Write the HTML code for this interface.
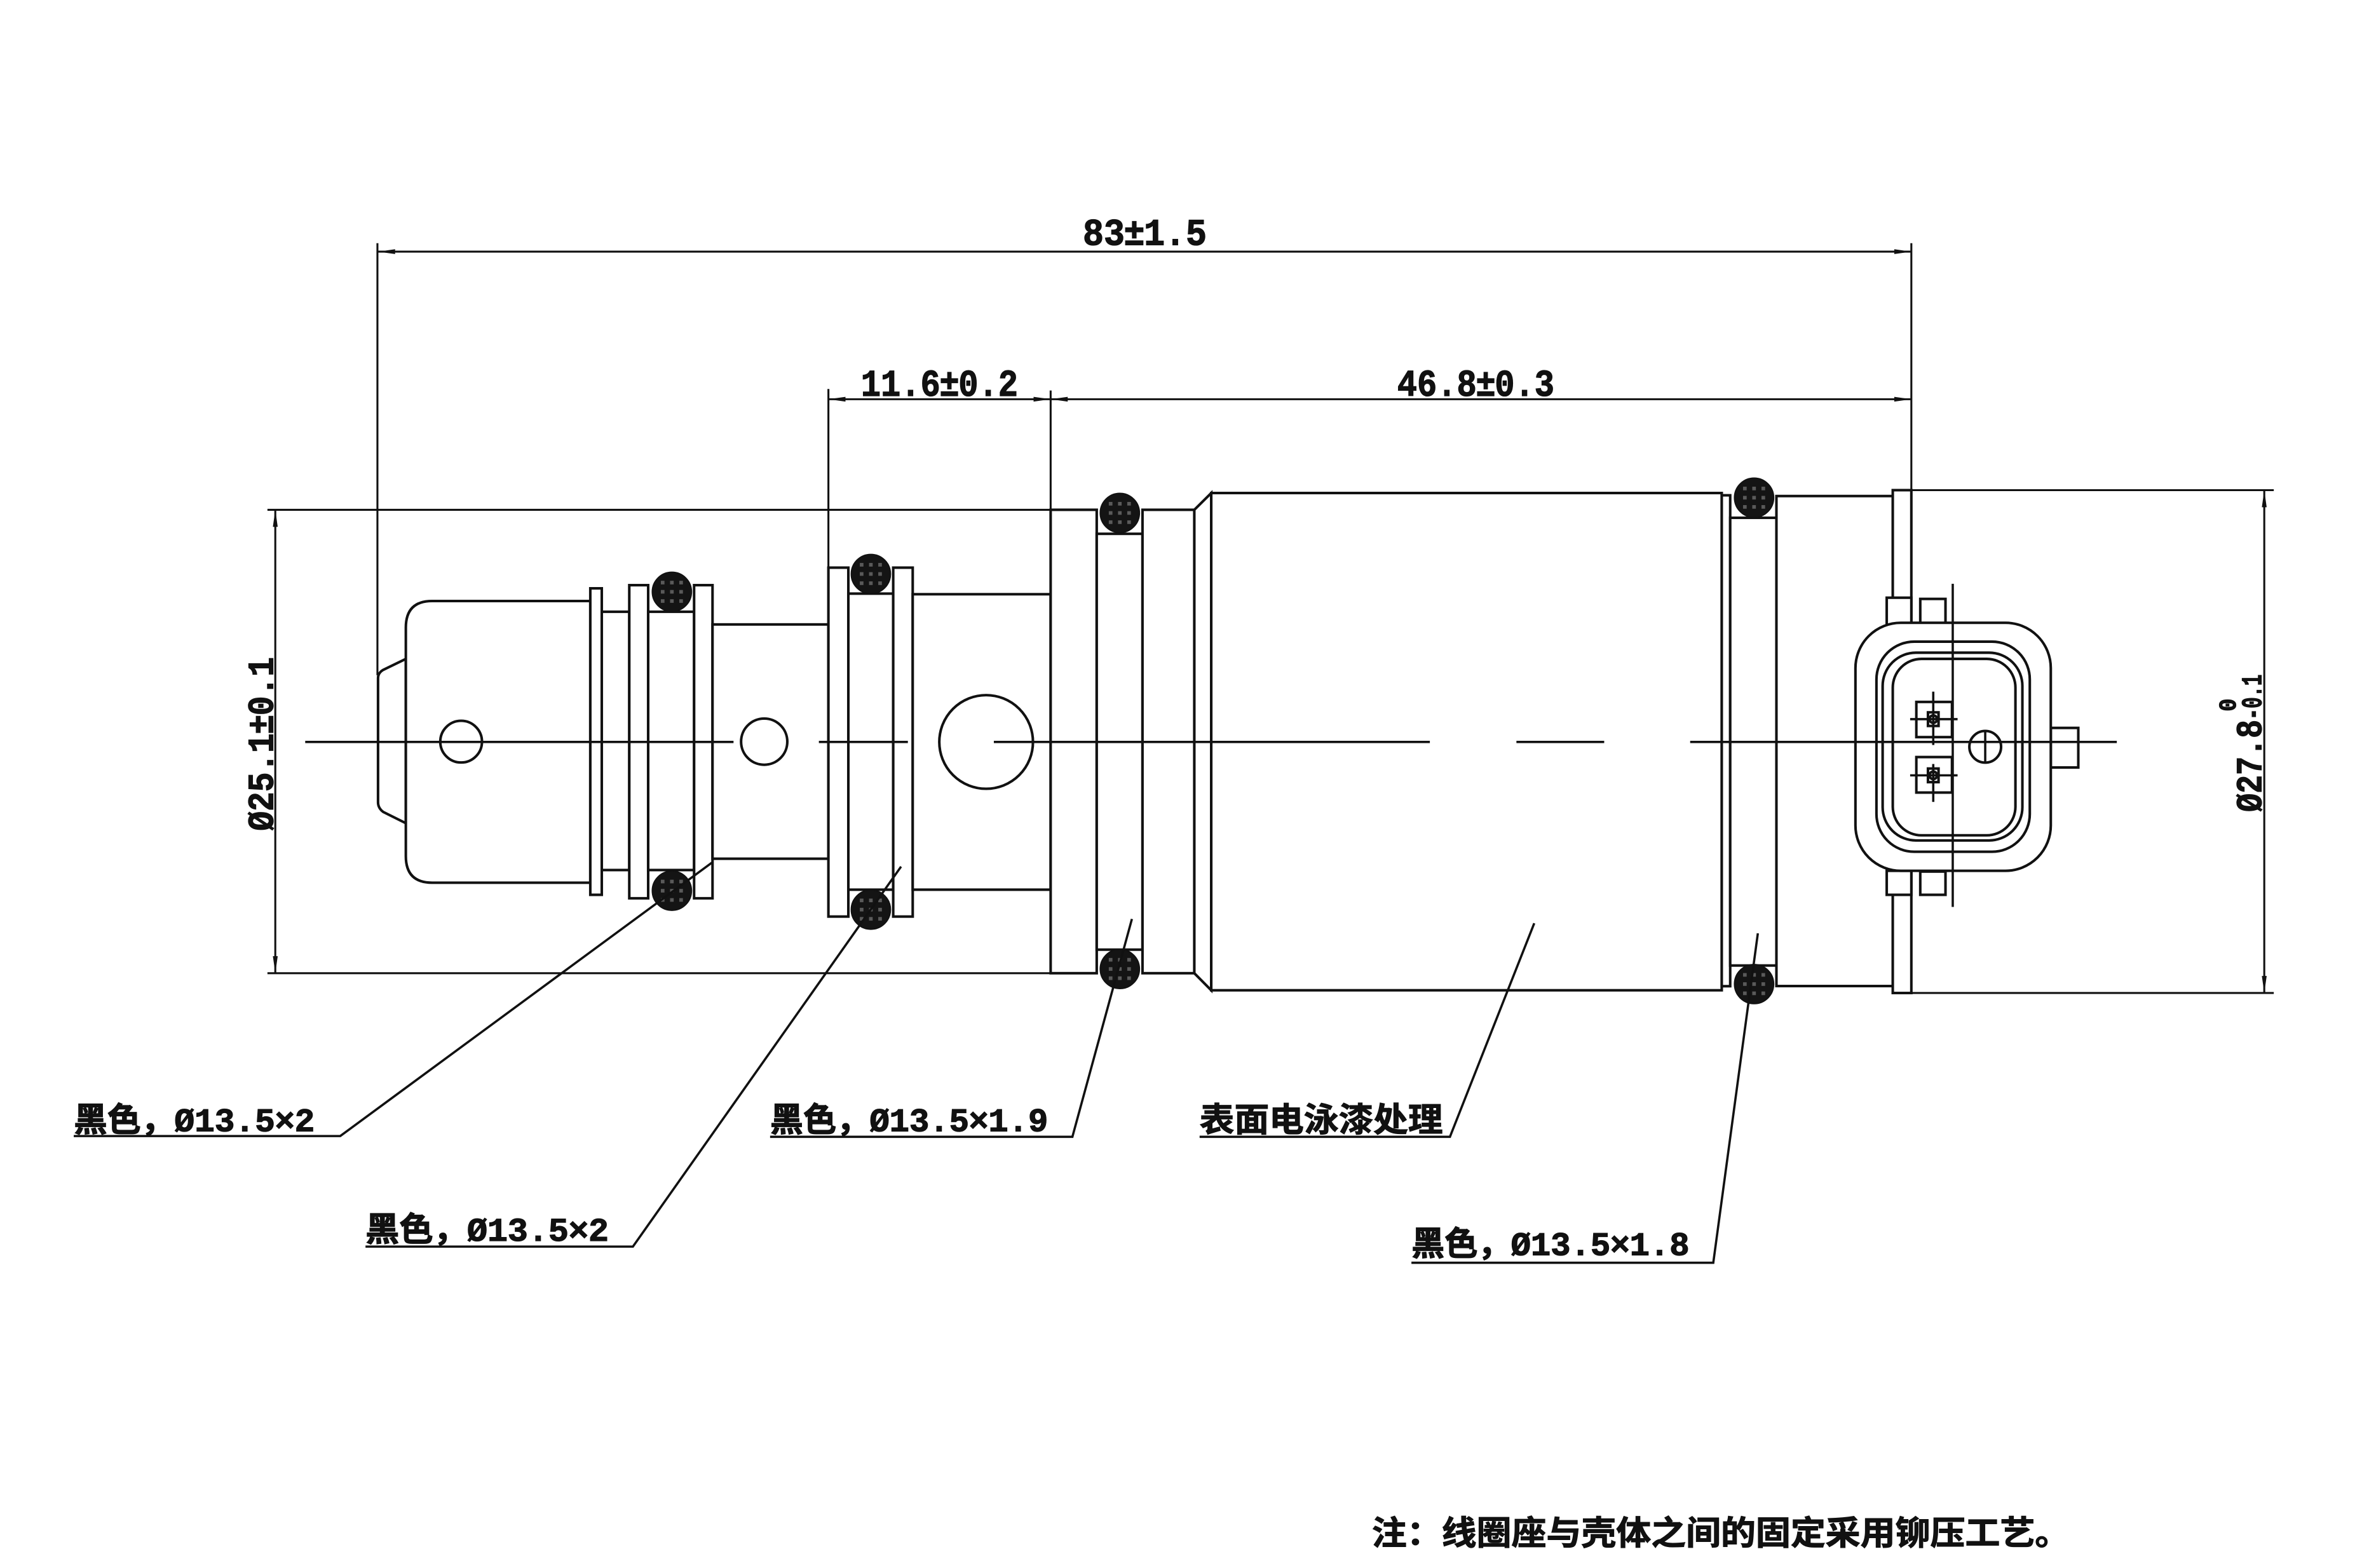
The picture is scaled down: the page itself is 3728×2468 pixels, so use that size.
<!DOCTYPE html>
<html>
<head>
<meta charset="utf-8">
<style>
html,body{margin:0;padding:0;background:#fff;}
svg{display:block;}
.t{font-family:"Liberation Mono","Noto Sans CJK SC",monospace;font-weight:700;fill:#111;stroke:#111;stroke-width:0.55;}
.c{font-family:"Liberation Sans","Noto Sans CJK SC","WenQuanYi Zen Hei",sans-serif;font-weight:700;fill:#111;stroke:#111;stroke-width:0.45;}
.s{font-family:"Liberation Sans","Noto Sans CJK SC",sans-serif;}
</style>
</head>
<body>
<svg xmlns="http://www.w3.org/2000/svg" width="3728" height="2468" viewBox="0 0 1568 1038.07">
<defs>
  <g id="or">
    <circle r="13" fill="#141414" stroke="#111" stroke-width="0.8"/>
    <g fill="#5a5a5a">
      <rect x="-7.3" y="-7.3" width="2.4" height="2.4"/>
      <rect x="-1.2" y="-7.3" width="2.4" height="2.4"/>
      <rect x="4.9" y="-7.3" width="2.4" height="2.4"/>
      <rect x="-7.3" y="-1.2" width="2.4" height="2.4"/>
      <rect x="-1.2" y="-1.2" width="2.4" height="2.4"/>
      <rect x="4.9" y="-1.2" width="2.4" height="2.4"/>
      <rect x="-7.3" y="4.9" width="2.4" height="2.4"/>
      <rect x="-1.2" y="4.9" width="2.4" height="2.4"/>
      <rect x="4.9" y="4.9" width="2.4" height="2.4"/>
    </g>
  </g>
</defs>
<rect x="0" y="0" width="1568" height="1038.07" fill="#fff"/>

<!-- dimension & extension lines -->
<g fill="none" stroke="#111" stroke-width="1.3">
  <path d="M249.8,161 V447"/>
  <path d="M1265.1,161 V324.5"/>
  <path d="M249.8,166.6 H1265.1"/>
  <path d="M548.3,257.5 V375.8"/>
  <path d="M695.4,258.5 V337.5"/>
  <path d="M548.3,264.3 H1265.1"/>
  <path d="M177,337.5 H695.4"/>
  <path d="M177,644.3 H695.4"/>
  <path d="M182.2,337.5 V644.3"/>
  <path d="M1265.1,324.5 H1505"/>
  <path d="M1265.1,657.4 H1505"/>
  <path d="M1498.7,324.5 V657.4"/>
</g>

<!-- arrowheads -->
<g fill="#111">
  <polygon points="250.2,166.6 261.5,165 261.5,168.2"/>
  <polygon points="1265.1,166.6 1253.8,165 1253.8,168.2"/>
  <polygon points="548.3,264.3 559.6,262.7 559.6,265.9"/>
  <polygon points="695.4,264.3 684.1,262.7 684.1,265.9"/>
  <polygon points="695.4,264.3 706.7,262.7 706.7,265.9"/>
  <polygon points="1265.1,264.3 1253.8,262.7 1253.8,265.9"/>
  <polygon points="182.2,337.5 180.6,348.8 183.8,348.8"/>
  <polygon points="182.2,644.3 180.6,633 183.8,633"/>
  <polygon points="1498.7,324.5 1497.1,335.8 1500.3,335.8"/>
  <polygon points="1498.7,657.4 1497.1,646.1 1500.3,646.1"/>
</g>

<!-- part outlines -->
<g fill="#fff" stroke="#111" stroke-width="1.7" stroke-linejoin="miter">
  <path d="M268.6,436.2 L253.6,443.5 Q250.2,445.5 250.2,449 V531 Q250.2,535 253.6,537.5 L268.6,545 Z"/>
  <path d="M390.7,397.9 H286 Q268.6,397.9 268.6,415.5 V566.8 Q268.6,584.4 286,584.4 H390.7 Z"/>
  <circle cx="305.2" cy="491" r="13.8"/>
  <rect x="390.7" y="389.5" width="7.6" height="202.9"/>
  <rect x="398.3" y="405" width="18.2" height="171"/>
  <rect x="416.5" y="387.4" width="12.5" height="207.3"/>
  <rect x="429" y="405" width="30.4" height="171"/>
  <rect x="459.4" y="387.4" width="12.2" height="207.3"/>
  <rect x="471.6" y="413.4" width="76.7" height="155.1"/>
  <circle cx="505.8" cy="491" r="15.3"/>
  <rect x="548.3" y="375.8" width="13.2" height="231"/>
  <rect x="561.5" y="393" width="29.7" height="196"/>
  <rect x="591.2" y="375.8" width="12.9" height="231"/>
  <rect x="604.1" y="393.4" width="91.3" height="195.6"/>
  <circle cx="652.7" cy="491.2" r="31"/>
  <rect x="695.4" y="337.5" width="30.5" height="306.8"/>
  <rect x="725.9" y="353.4" width="30.3" height="275.3"/>
  <rect x="756.2" y="337.5" width="34.3" height="306.8"/>
  <path d="M790.5,337.5 L801.7,326.4 V655.6 L790.5,644.3 Z"/>
  <rect x="801.7" y="326.4" width="337.9" height="329.2"/>
  <rect x="1139.6" y="327.9" width="5.6" height="325"/>
  <rect x="1145.2" y="342.8" width="30.6" height="296.4"/>
  <rect x="1175.8" y="328.4" width="77" height="324.4"/>
  <rect x="1252.8" y="324.5" width="12.3" height="332.9"/>
  <rect x="1248.8" y="395.7" width="16.3" height="18.2"/>
  <rect x="1271" y="396.5" width="16.7" height="16"/>
  <rect x="1248.8" y="576.5" width="16.3" height="15.9"/>
  <rect x="1271" y="577" width="16.7" height="15.4"/>
  <rect x="1357.4" y="481.9" width="18.2" height="26.2"/>
  <rect x="1228.1" y="412.3" width="129.3" height="164.2" rx="30" ry="30"/>
  <rect x="1242" y="424.8" width="101.5" height="139.1" rx="25" ry="25"/>
  <rect x="1246.1" y="432.1" width="92.5" height="124.3" rx="22" ry="22"/>
  <rect x="1252.8" y="436.2" width="81.2" height="116.8" rx="19" ry="19"/>
  <rect x="1268.4" y="464.7" width="23.6" height="23.3"/>
  <rect x="1268.4" y="501.2" width="23.6" height="23.5"/>
  <rect x="1276.1" y="471.6" width="7" height="9"/>
  <rect x="1276.1" y="508.8" width="7" height="9"/>
  <circle cx="1279.6" cy="476.1" r="2.5"/>
  <circle cx="1279.6" cy="513.3" r="2.5"/>
  <circle cx="1314" cy="494.4" r="10.5"/>
</g>

<!-- center lines and crosshairs -->
<g fill="none" stroke="#111" stroke-width="1.5">
  <path d="M202,491.2 H485.5"/>
  <path d="M542,491.2 H600.9"/>
  <path d="M657.8,491.2 H946.4"/>
  <path d="M1003.7,491.2 H1061.8"/>
  <path d="M1118.7,491.2 H1401.1"/>
  <path d="M1292.5,386.5 V600.4"/>
  <path d="M1264.3,476.1 H1295.7"/>
  <path d="M1264.3,513.3 H1295.7"/>
  <path d="M1279.6,457.9 V493.2"/>
  <path d="M1279.6,505.8 V530.9"/>
  <path d="M1314,484 V505"/>
</g>

<!-- o-rings -->
<use href="#or" x="444.7" y="391.8"/>
<use href="#or" x="444.7" y="589.7"/>
<use href="#or" x="576.4" y="380"/>
<use href="#or" x="576.4" y="602.2"/>
<use href="#or" x="741.2" y="339.6"/>
<use href="#or" x="741.2" y="641.5"/>
<use href="#or" x="1161" y="329.5"/>
<use href="#or" x="1161" y="651.5"/>

<!-- leaders -->
<g fill="none" stroke="#111" stroke-width="1.5">
  <polyline points="48.8,752.1 225.2,752.1 471.6,570.8"/>
  <polyline points="241.9,825.3 418.9,825.3 596.4,573.7"/>
  <polyline points="509.7,752.6 709.8,752.6 749.2,608.4"/>
  <polyline points="794,752.6 959.7,752.6 1015.5,611.2"/>
  <polyline points="934.2,836 1134,836 1163.5,617.9"/>
</g>

<!-- dimension texts -->
<text class="t" x="716.7" y="162.2" font-size="25" textLength="82" lengthAdjust="spacingAndGlyphs">83<tspan class="s">±</tspan>1.5</text>
<text class="t" x="569.8" y="262" font-size="25" textLength="104" lengthAdjust="spacingAndGlyphs">11.6<tspan class="s">±</tspan>0.2</text>
<text class="t" x="924.8" y="262" font-size="25" textLength="104" lengthAdjust="spacingAndGlyphs">46.8<tspan class="s">±</tspan>0.3</text>
<text class="t" transform="translate(180.6,550) rotate(-90)" x="0" y="0" font-size="24" textLength="115" lengthAdjust="spacingAndGlyphs">Ø25.1<tspan class="s">±</tspan>0.1</text>
<text class="t" transform="translate(1496.8,537.5) rotate(-90)" x="0" y="0" font-size="24" textLength="61" lengthAdjust="spacingAndGlyphs">Ø27.8</text>
<text class="t" transform="translate(1496.8,476.5) rotate(-90)" x="0" y="0" font-size="19" textLength="30" lengthAdjust="spacingAndGlyphs">-0.1</text>
<text class="t" transform="translate(1479.6,471) rotate(-90)" x="0" y="0" font-size="16" textLength="8.5" lengthAdjust="spacingAndGlyphs">0</text>

<!-- labels -->
<text class="t" x="48.8" y="748.8" font-size="22" textLength="159.5" lengthAdjust="spacingAndGlyphs">黑色，Ø13.5<tspan class="s">×</tspan>2</text>
<text class="t" x="241.9" y="821.5" font-size="22" textLength="161" lengthAdjust="spacingAndGlyphs">黑色，Ø13.5<tspan class="s">×</tspan>2</text>
<text class="t" x="509.7" y="748.8" font-size="22" textLength="184" lengthAdjust="spacingAndGlyphs">黑色，Ø13.5<tspan class="s">×</tspan>1.9</text>
<text class="c" x="794" y="748.8" font-size="22" textLength="161" lengthAdjust="spacingAndGlyphs">表面电泳漆处理</text>
<text class="t" x="934.2" y="831" font-size="22" textLength="184" lengthAdjust="spacingAndGlyphs">黑色，Ø13.5<tspan class="s">×</tspan>1.8</text>

<!-- note -->
<text class="c" x="908" y="1022.6" font-size="22" textLength="462" lengthAdjust="spacingAndGlyphs">注：线圈座与壳体之间的固定采用铆压工艺。</text>
</svg>
</body>
</html>
